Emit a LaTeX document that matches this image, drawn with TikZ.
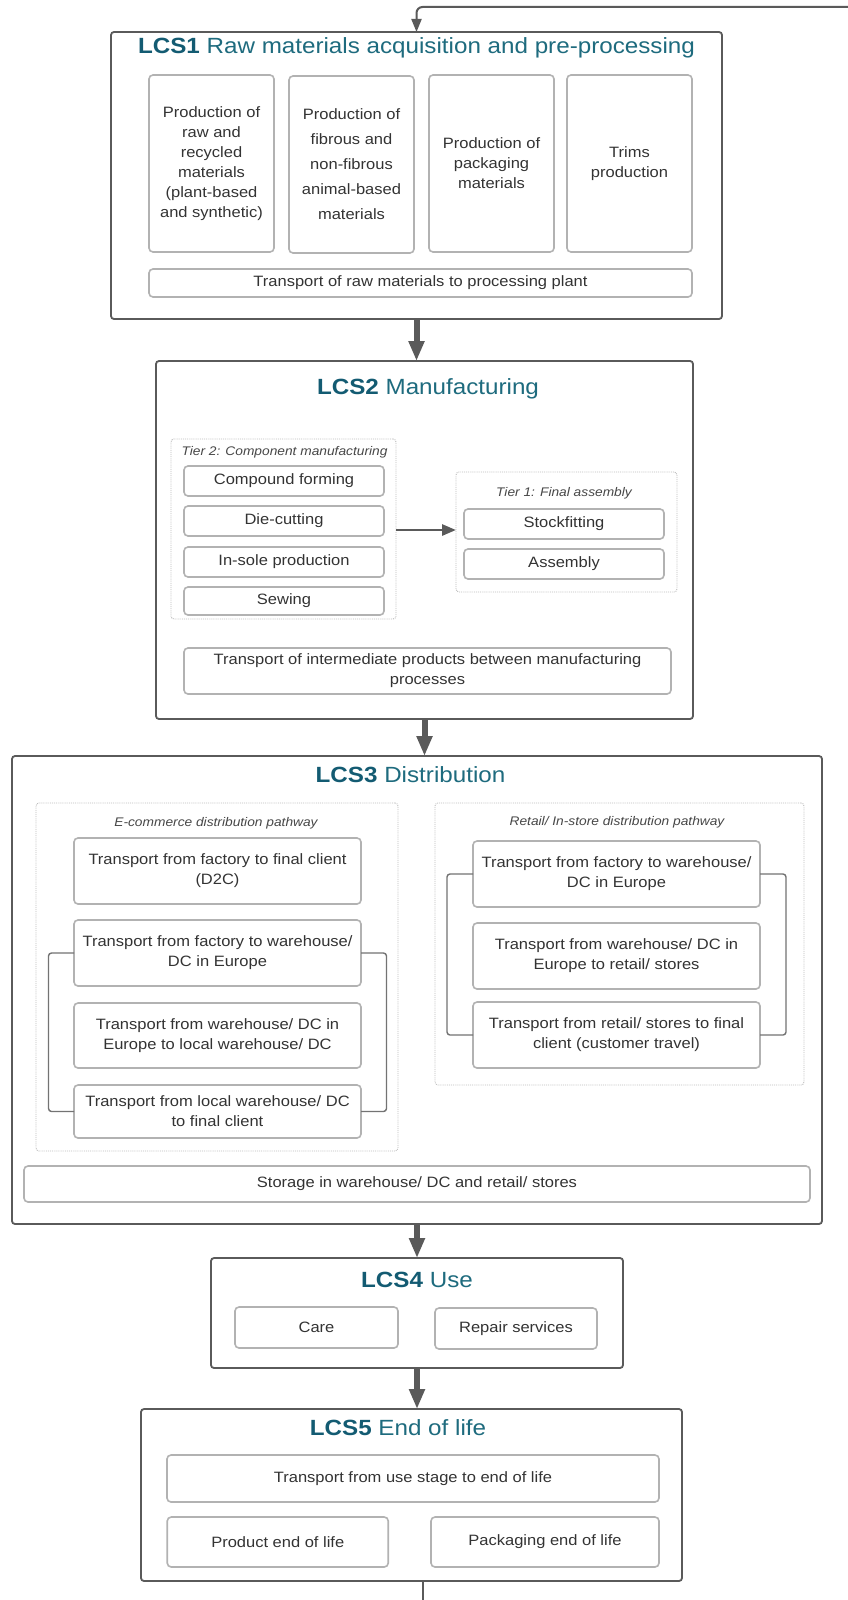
\documentclass[tikz,border=0pt]{standalone}
\usepackage{fontspec}
\setmainfont{Liberation Sans}[FakeStretch=1.1]
\usetikzlibrary{arrows.meta}
\definecolor{tealA}{HTML}{135B72}
\definecolor{tealB}{HTML}{1E6B7E}
\definecolor{edgec}{HTML}{5A5A5A}
\definecolor{innerc}{HTML}{B2B2B2}
\definecolor{dotc}{HTML}{BDBDBD}
\definecolor{txtc}{HTML}{333333}
\definecolor{labc}{HTML}{474747}
\newcommand{\bodyf}{\fontsize{15}{20}\selectfont}
\newcommand{\widef}{\fontsize{15}{25}\selectfont}
\newcommand{\titlef}{\fontsize{22}{26}\selectfont}
\newcommand{\labf}{\fontsize{12.5}{15}\selectfont\itshape}
\newcommand{\ttl}[2]{\textcolor{tealA}{\textbf{#1}} \textcolor{tealB}{#2}}
\tikzset{
  outerbox/.style={draw=edgec, line width=1.8pt, rounded corners=3pt, inner sep=0pt, outer sep=0pt},
  innerbox/.style={draw=innerc, line width=1.6pt, rounded corners=4pt, inner sep=0pt, outer sep=0pt,
                   align=center, text=txtc, font=\bodyf},
  dotbox/.style={draw=dotc, densely dotted, line width=0.9pt, rounded corners=3pt, inner sep=0pt, outer sep=0pt},
  titlenode/.style={anchor=base, inner sep=0pt, font=\titlef},
  labnode/.style={anchor=base, inner sep=0pt, font=\labf, text=labc},
  flow/.style={draw=edgec, line width=6pt, -{Triangle[width=15pt,length=20pt]}},
  thinflow/.style={draw=edgec, line width=2pt, rounded corners=6pt, -{Triangle[width=10pt,length=13pt]}},
  midflow/.style={draw=edgec, line width=2.8pt, -{Triangle[width=11pt,length=14pt]}},
  plainline/.style={draw=edgec, line width=2pt},
  bracket/.style={draw=edgec!85, line width=1.4pt, rounded corners=3pt}
}
\begin{document}
\begin{tikzpicture}[x=1pt,y=-1pt]
\useasboundingbox (0,0) rectangle (848,1600);
\fill[white] (0,0) rectangle (848,1600);

% ---------------- LCS1 ----------------
\node[outerbox, minimum width=611pt, minimum height=287pt] (lcs1) at (416.5,175.5) {};
\node[titlenode] (t1) at (416.5,54) {\ttl{LCS1}{Raw materials acquisition and pre-processing}};
\node[innerbox, minimum width=125pt, minimum height=177pt] (a1) at (211.5,163.5)
  {Production of\\raw and\\recycled\\materials\\(plant-based\\and synthetic)};
\node[innerbox, font=\widef, minimum width=125pt, minimum height=177pt] (a2) at (351.5,164.5)
  {Production of\\fibrous and\\non-fibrous\\animal-based\\materials};
\node[innerbox, minimum width=125pt, minimum height=177pt] (a3) at (491.5,163.5)
  {Production of\\packaging\\materials};
\node[innerbox, minimum width=125pt, minimum height=177pt] (a4) at (629.5,163.5)
  {Trims\\production};
\node[innerbox, minimum width=543pt, minimum height=28pt] (a5) at (420.5,283)
  {Transport of raw materials to processing plant};

% ---------------- LCS2 ----------------
\node[outerbox, minimum width=537pt, minimum height=358pt] (lcs2) at (424.5,540) {};
\node[titlenode] (t2) at (428,394) {\ttl{LCS2}{Manufacturing}};
\node[dotbox, minimum width=225pt, minimum height=180pt] (tier2) at (283.5,529) {};
\node[labnode] (l2) at (284.5,455) {Tier 2: Component manufacturing};
\node[innerbox, minimum width=200pt, minimum height=30pt] (b1) at (284,481) {Compound forming};
\node[innerbox, minimum width=200pt, minimum height=30pt] (b2) at (284,521) {Die-cutting};
\node[innerbox, minimum width=200pt, minimum height=30pt] (b3) at (284,562) {In-sole production};
\node[innerbox, minimum width=200pt, minimum height=28pt] (b4) at (284,601) {Sewing};
\node[dotbox, minimum width=221pt, minimum height=120pt] (tier1) at (566.5,532) {};
\node[labnode] (l1) at (564,496) {Tier 1: Final assembly};
\node[innerbox, minimum width=200pt, minimum height=30pt] (c1) at (564,524) {Stockfitting};
\node[innerbox, minimum width=200pt, minimum height=30pt] (c2) at (564,564) {Assembly};
\node[innerbox, minimum width=487pt, minimum height=46pt] (b5) at (427.5,671)
  {Transport of intermediate products between manufacturing\\processes};
\draw[midflow] (tier2.east |- 0,530) -- (tier1.west |- 0,530);

% ---------------- LCS3 ----------------
\node[outerbox, minimum width=810pt, minimum height=468pt] (lcs3) at (417,990) {};
\node[titlenode] (t3) at (410.5,782) {\ttl{LCS3}{Distribution}};
\node[dotbox, minimum width=362pt, minimum height=348pt] (ecom) at (217,977) {};
\node[labnode] (le) at (216,826) {E-commerce distribution pathway};
\node[innerbox, minimum width=287pt, minimum height=66pt] (e1) at (217.5,871)
  {Transport from factory to final client\\(D2C)};
\node[innerbox, minimum width=287pt, minimum height=66pt] (e2) at (217.5,953)
  {Transport from factory to warehouse/\\DC in Europe};
\node[innerbox, minimum width=287pt, minimum height=65pt] (e3) at (217.5,1035.5)
  {Transport from warehouse/ DC in\\Europe to local warehouse/ DC};
\node[innerbox, minimum width=287pt, minimum height=53pt] (e4) at (217.5,1111.5)
  {Transport from local warehouse/ DC\\to final client};
\draw[bracket] (e2.west) -- ++(-25.5,0) |- (e4.west);
\draw[bracket] (e2.east) -- ++(25.5,0) |- (e4.east);

\node[dotbox, minimum width=369pt, minimum height=282pt] (retail) at (619.5,944) {};
\node[labnode] (lr) at (617,825) {Retail/ In-store distribution pathway};
\node[innerbox, minimum width=287pt, minimum height=66pt] (r1) at (616.5,874)
  {Transport from factory to warehouse/\\DC in Europe};
\node[innerbox, minimum width=287pt, minimum height=66pt] (r2) at (616.5,956)
  {Transport from warehouse/ DC in\\Europe to retail/ stores};
\node[innerbox, minimum width=287pt, minimum height=66pt] (r3) at (616.5,1035)
  {Transport from retail/ stores to final\\client (customer travel)};
\draw[bracket] (r1.west) -- ++(-26,0) |- (r3.west);
\draw[bracket] (r1.east) -- ++(26,0) |- (r3.east);

\node[innerbox, minimum width=786pt, minimum height=36pt] (st) at (417,1184)
  {Storage in warehouse/ DC and retail/ stores};

% ---------------- LCS4 ----------------
\node[outerbox, minimum width=412pt, minimum height=110pt] (lcs4) at (417,1313) {};
\node[titlenode] (t4) at (417,1287) {\ttl{LCS4}{Use}};
\node[innerbox, minimum width=163pt, minimum height=41pt] (d1) at (316.5,1327.5) {Care};
\node[innerbox, minimum width=162pt, minimum height=41pt] (d2) at (516,1328.5) {Repair services};

% ---------------- LCS5 ----------------
\node[outerbox, minimum width=541pt, minimum height=172pt] (lcs5) at (411.5,1495) {};
\node[titlenode] (t5) at (398,1435) {\ttl{LCS5}{End of life}};
\node[innerbox, minimum width=492pt, minimum height=47pt] (f1) at (413,1478.5)
  {Transport from use stage to end of life};
\node[innerbox, minimum width=221pt, minimum height=50pt] (f2) at (277.75,1542) {Product end of life};
\node[innerbox, minimum width=228pt, minimum height=50pt] (f3) at (545,1542) {Packaging end of life};

% ---------------- connectors ----------------
\coordinate (topR) at (848,7);
\coordinate (botE) at (423,1600);
\draw[thinflow] (topR) -- (topR -| lcs1.north) -- (lcs1.north);
\draw[flow] (lcs1.south) -- (lcs1.south |- lcs2.north);
\draw[flow] (lcs2.south) -- (lcs2.south |- lcs3.north);
\draw[flow] (lcs3.south) -- (lcs4.north);
\draw[flow] (lcs4.south) -- (lcs4.south |- lcs5.north);
\draw[plainline] (botE |- lcs5.south) -- (botE);
\end{tikzpicture}
\end{document}
